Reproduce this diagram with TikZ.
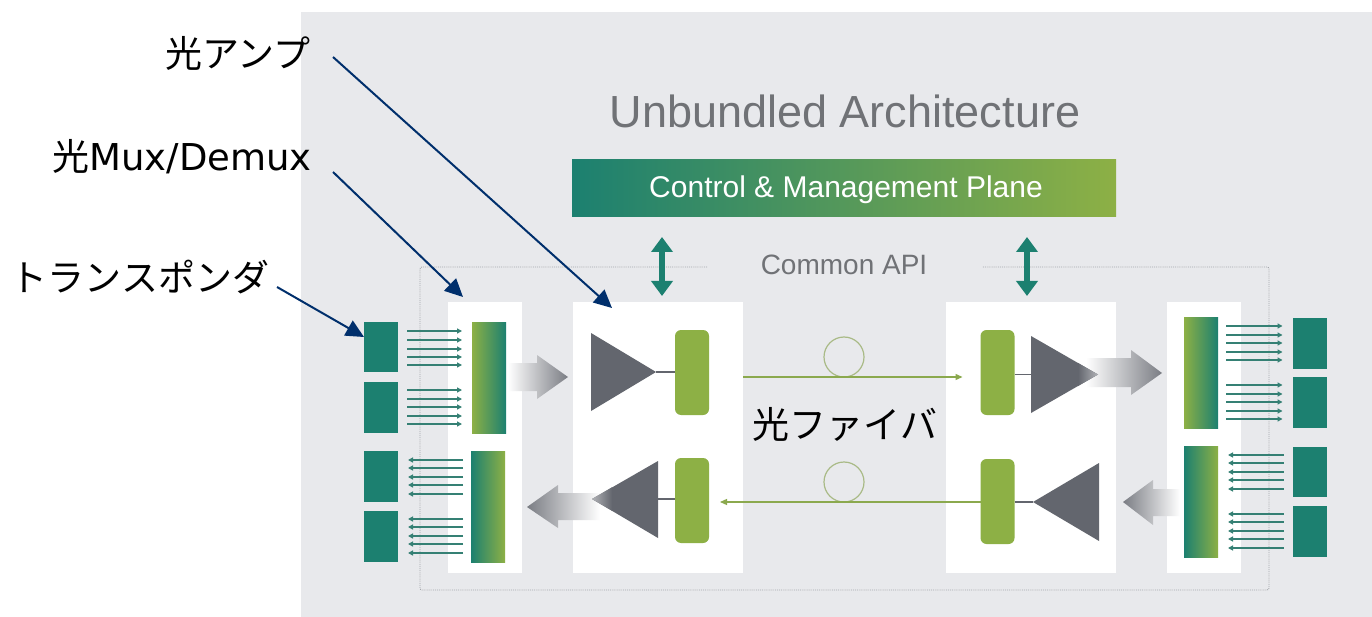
\documentclass[tikz,border=0pt]{standalone}
\usepackage{fontspec}
\setmainfont{Liberation Sans}
\newfontfamily\cjk{Noto Sans CJK JP}
\newfontfamily\widelatin{DejaVu Sans}
\usetikzlibrary{arrows.meta}
\definecolor{panelgray}{HTML}{E8E9EC}
\definecolor{teal}{HTML}{1C8070}
\definecolor{olive}{HTML}{8DB045}
\definecolor{coilgreen}{HTML}{A9BA86}
\definecolor{slate}{HTML}{63666E}
\definecolor{navy}{HTML}{002F6C}
\definecolor{textgray}{HTML}{707276}
\definecolor{dotgray}{HTML}{A3A6AB}
\begin{document}
\begin{tikzpicture}[x=1pt,y=-1pt]

\tikzstyle{whitebox}=[fill=white, inner sep=0, outer sep=0]
\tikzstyle{tpbox}=[fill=teal, inner sep=0, outer sep=0, minimum width=34pt]
\tikzstyle{barup}=[left color=olive, right color=teal, inner sep=0, outer sep=0, minimum width=34pt, minimum height=111pt]
\tikzstyle{bardown}=[left color=teal, right color=olive, inner sep=0, outer sep=0, minimum width=34pt, minimum height=111pt]
\tikzstyle{pmbox}=[fill=olive, rounded corners=6pt, inner sep=0, outer sep=0, minimum width=34pt, minimum height=85pt]
\tikzstyle{coil}=[draw=coilgreen, circle, line width=1.2pt, inner sep=0, minimum size=40pt]
\tikzstyle{sig}=[teal!75!gray, line width=1.2pt, -{Triangle[length=5pt,width=5pt]}]
\tikzstyle{fibre}=[olive!85!gray, line width=1.3pt, -{Triangle[length=7pt,width=6pt]}]
\tikzstyle{stem}=[slate, line width=1.6pt]
\tikzstyle{api}=[teal, line width=6pt, {Triangle[length=15pt,width=21pt]}-{Triangle[length=15pt,width=21pt]}]
\tikzstyle{leader}=[navy, line width=2pt, -{Triangle[length=18pt,width=17pt]}]
\tikzstyle{dots}=[dotgray, line width=0.9pt, densely dotted]
\tikzstyle{callout}=[black, inner sep=0, font=\cjk\fontsize{37}{37}\selectfont]

\useasboundingbox (0,0) rectangle (1372,617);
\fill[white] (0,0) rectangle (1372,617);
\fill[panelgray] (301,12) rectangle (1372,617);

% dotted frame
\coordinate (frameL) at (707,267);
\coordinate (frameR) at (982,267);
\draw[dots, rounded corners=2pt] (frameL) -- (420,267) -- (420,590) -- (1269,590) -- (1269,267) -- (frameR);

% heading
\node[textgray, inner sep=0] (title) at (845,111) {\fontsize{45}{45}\selectfont Unbundled Architecture};
\node[left color=teal, right color=olive, inner sep=0, outer sep=0, minimum width=544pt, minimum height=57pt] (plane) at (844,188.5) {};
\node[white, inner sep=0, font=\fontsize{30}{30}\selectfont] (planetext) at (846,190) {Control \& Management Plane};
\node[textgray, inner sep=0, font=\fontsize{28}{28}\selectfont] (common) at (844,265) {Common API};

% white cards
\node[whitebox, minimum width=74pt, minimum height=271pt] (muxL) at (485,437.5) {};
\node[whitebox, minimum width=170pt, minimum height=271pt] (ampL) at (658,437.5) {};
\node[whitebox, minimum width=170pt, minimum height=271pt] (ampR) at (1031,437.5) {};
\node[whitebox, minimum width=74pt, minimum height=271pt] (muxR) at (1204,437.5) {};

% transponders
\node[tpbox, minimum height=50pt] (tpLa) at (381,347) {};
\node[tpbox, minimum height=51pt] (tpLb) at (381,407.5) {};
\node[tpbox, minimum height=51pt] (tpLc) at (381,476.5) {};
\node[tpbox, minimum height=51pt] (tpLd) at (381,536.5) {};
\node[tpbox, minimum height=51pt] (tpRa) at (1309.5,343.5) {};
\node[tpbox, minimum height=51pt] (tpRb) at (1309.5,402.5) {};
\node[tpbox, minimum height=50pt] (tpRc) at (1309.5,472) {};
\node[tpbox, minimum height=51pt] (tpRd) at (1309.5,531.5) {};

% mux bars
\node[barup] (barLa) at (489,377.5) {};
\node[bardown] (barLb) at (488,506.5) {};
\node[barup] (barRa) at (1201,373) {};
\node[bardown] (barRb) at (1201,502) {};

% small arrows
\foreach \y in {331,340,349,357,365,390,399,407,416,424}
  \draw[sig] ([xshift=9pt]tpLa.east |- 0,\y) -- ([xshift=-10pt]barLa.west |- 0,\y);
\foreach \y in {460,468,477,485,494,519,527,536,544,553}
  \draw[sig] ([xshift=-8pt]barLb.west |- 0,\y) -- ([xshift=10pt]tpLc.east |- 0,\y);
\foreach \y in {326,335,343,352,360,385,394,402,411,419}
  \draw[sig] ([xshift=8pt]barRa.east |- 0,\y) -- ([xshift=-10pt]tpRa.west |- 0,\y);
\foreach \y in {455,463,472,480,489,514,522,531,539,548}
  \draw[sig] ([xshift=-9pt]tpRc.west |- 0,\y) -- ([xshift=10pt]barRb.east |- 0,\y);

% grey block arrows
\shade[left color=white, right color=slate!85] (508,363) -- (537,363) -- (537,355) -- (568,377) -- (537,399) -- (537,391) -- (508,391) -- cycle;
\shade[left color=slate!85, right color=white] (527,507) -- (558,485) -- (558,493) -- (600,493) -- (600,520) -- (558,520) -- (558,528) -- cycle;
\shade[left color=white, right color=slate!85] (1086,358) -- (1131,358) -- (1131,350) -- (1162,373) -- (1131,395) -- (1131,387) -- (1086,387) -- cycle;
\shade[left color=slate!85, right color=white] (1123,502) -- (1153,480) -- (1153,489) -- (1180,489) -- (1180,516) -- (1153,516) -- (1153,525) -- cycle;

% amplifiers
\coordinate (tipLa) at (656,372);
\coordinate (tipLb) at (592,499);
\coordinate (tipRa) at (1098,374.5);
\coordinate (tipRb) at (1033,502);
\node[pmbox] (pmLa) at (692,372.5) {};
\node[pmbox] (pmLb) at (692,500.5) {};
\node[pmbox] (pmRa) at (997.5,372.5) {};
\node[pmbox] (pmRb) at (997.5,501.5) {};
\draw[stem] (tipLa) -- (pmLa.west |- tipLa);
\draw[stem] (tipRa -| pmRa.east) -- (1031,374.5);
\draw[stem] (658,499) -- (pmLb.west |- tipLb);
\draw[stem] (pmRb.east |- tipRb) -- (tipRb);
\fill[slate] (591,333) -- (tipLa) -- (591,411) -- cycle;
\fill[slate] (658,461) -- (tipLb) -- (658,538) -- cycle;
\fill[slate] (1031,336) -- (tipRa) -- (1031,413) -- cycle;
\fill[slate] (1099,463) -- (tipRb) -- (1099,541) -- cycle;
% faded tips
\shade[left color=slate!50!white, right color=slate] (612,487.3) -- (tipLb) -- (612,510.7) -- cycle;
\shade[left color=slate, right color=slate!50!white] (1078,363) -- (tipRa) -- (1078,386) -- cycle;

% fibre
\node[coil] (coilA) at (844,357) {};
\node[coil] (coilB) at (844,482) {};
\draw[fibre] (ampL.east |- 0,377) -- ([xshift=-18pt]pmRa.west |- 0,377);
\draw[fibre] (pmRb.west |- 0,502) -- ([xshift=11pt]pmLb.east |- 0,502);
\node[callout] (fibrelabel) at (845,424) {光ファイバ};

% api arrows
\coordinate (apiLa) at (662,237);
\coordinate (apiLb) at (662,296);
\coordinate (apiRa) at (1027,237);
\coordinate (apiRb) at (1027,296);
\draw[api] (apiLa) -- (apiLb);
\draw[api] (apiRa) -- (apiRb);

% callouts
\node[callout] (lblamp) at (238,53) {光アンプ};
\node[callout, font=\fontsize{37}{37}\selectfont] (lblmux) at (182,157) {{\cjk 光}{\widelatin Mux/Demux}};
\node[callout] (lbltp) at (140,277) {トランスポンダ};
\coordinate (fromamp) at (333,57);
\coordinate (frommux) at (333,172);
\coordinate (fromtp) at (277,287);
\coordinate (toamp) at (612,308);
\coordinate (tomux) at (463,297);
\coordinate (totp) at (364,337);
\draw[leader] (fromamp) -- (toamp);
\draw[leader] (frommux) -- (tomux);
\draw[leader] (fromtp) -- (totp);
\end{tikzpicture}
\end{document}
